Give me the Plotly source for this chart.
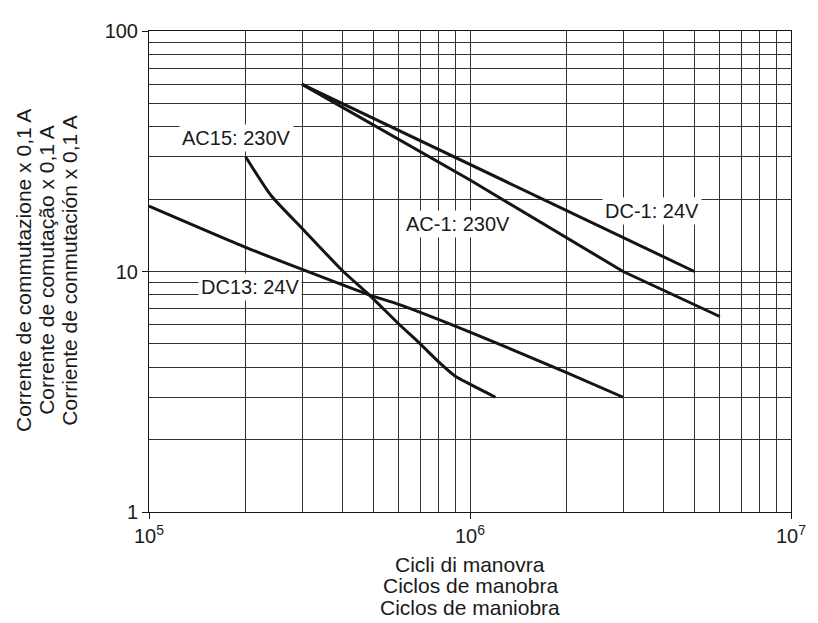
import math
import plotly.graph_objects as go

# ---- data ----
dc1_x = [3e5, 5e6]
dc1_y = [60, 10]

ac1_x = [3e5, 1e6, 3e6, 6e6]
ac1_y = [60, 24, 10, 6.5]

ac15_x = [2e5, 2.4e5, 3e5, 4e5, 4.85e5, 6e5, 7e5, 8e5, 9e5, 1e6, 1.2e6]
ac15_y = [30, 20.7, 15.1, 10.1, 8.0, 6.05, 5.0, 4.2, 3.67, 3.4, 3.0]

dc13_x = [1e5, 2e5, 3e5, 4.85e5, 6e5, 1e6, 2e6, 3e6]
dc13_y = [18.7, 12.6, 10.2, 8.0, 7.3, 5.6, 3.8, 3.0]

series_names = ["DC-1: 24V", "AC-1: 230V", "AC15: 230V", "DC13: 24V"]
label_x = [3.69e6, 9.2e5, 1.87e5, 2.07e5]
label_y = [17.9, 15.8, 35.8, 8.65]

x_major = [1e5, 1e6, 1e7]
x_major_text = ["10<sup>5</sup>", "10<sup>6</sup>", "10<sup>7</sup>"]
y_major = [1, 10, 100]
y_major_text = ["1", "10", "100"]
x_minor = [m * 10 ** e for e in (5, 6) for m in range(2, 10)]
y_minor = [m * 10 ** e for e in (0, 1) for m in range(2, 10)]

x_title_lines = ["Cicli di manovra", "Ciclos de manobra", "Ciclos de maniobra"]
y_title_lines = ["Corrente de commutazione x 0,1 A",
                 "Corrente de comutação x 0,1 A",
                 "Corriente de conmutación x 0,1 A"]

FONT = "Liberation Sans, Arial, Helvetica, sans-serif"
LINE = "#141414"
GRID = "#333333"

# page has an 8px body margin: size figure so that it fits the 818x623 window
OFF = 8
W, H = 818 - OFF, 623 - OFF
L, R, T, B = 141, 22, 15, 111
pw, ph = W - L - R, H - T - B


def px_to_paper(px, py):
    """page pixel -> plot paper fraction"""
    fx = px - OFF
    fy = py - OFF
    return (fx - L) / pw, (H - fy - B) / ph


fig = go.Figure()
for xs, ys, nm, shp in [(dc1_x, dc1_y, series_names[0], "linear"),
                        (ac1_x, ac1_y, series_names[1], "linear"),
                        (ac15_x, ac15_y, series_names[2], "spline"),
                        (dc13_x, dc13_y, series_names[3], "spline")]:
    fig.add_trace(go.Scatter(x=xs, y=ys, mode="lines", name=nm,
                             line=dict(color=LINE, width=3, shape=shp, smoothing=0.6),
                             showlegend=False))

# curve labels (log-axis annotation coordinates are log10 values)
for txt, lx, ly in zip(series_names, label_x, label_y):
    fig.add_annotation(x=math.log10(lx), y=math.log10(ly), xref="x", yref="y", text=txt,
                       showarrow=False, font=dict(family=FONT, size=20, color="#1a1a1a"),
                       bgcolor="white", borderpad=2, xanchor="center", yanchor="middle")

# axis titles as separate lines
for i, t in enumerate(x_title_lines):
    ax, ay = px_to_paper(472.5, 565 + 22 * i)
    fig.add_annotation(x=ax, y=ay, xref="paper", yref="paper",
                       text=t, showarrow=False, xanchor="center", yanchor="middle",
                       font=dict(family=FONT, size=21, color="#1a1a1a"))
for i, t in enumerate(y_title_lines):
    ax, ay = px_to_paper(22 + 23 * i, 266)
    fig.add_annotation(x=ax, y=ay, xref="paper", yref="paper",
                       text=t, showarrow=False, xanchor="center", yanchor="middle",
                       textangle=-90, font=dict(family=FONT, size=21, color="#1a1a1a"))

fig.update_xaxes(type="log", range=[5, 7], tickmode="array", tickvals=x_major,
                 ticktext=x_major_text, ticks="outside", ticklen=6, tickcolor=LINE,
                 showgrid=True, gridcolor=GRID, gridwidth=1,
                 showline=True, linecolor=LINE, linewidth=1, mirror=True,
                 minor=dict(tickmode="array", tickvals=x_minor, showgrid=True,
                            gridcolor=GRID, gridwidth=1, ticks=""),
                 tickfont=dict(family=FONT, size=20, color="#1a1a1a"), zeroline=False)
fig.update_yaxes(type="log", range=[0, 2], tickmode="array", tickvals=y_major,
                 ticktext=y_major_text, ticks="outside", ticklen=6, tickcolor=LINE,
                 showgrid=True, gridcolor=GRID, gridwidth=1,
                 showline=True, linecolor=LINE, linewidth=1, mirror=True,
                 minor=dict(tickmode="array", tickvals=y_minor, showgrid=True,
                            gridcolor=GRID, gridwidth=1, ticks=""),
                 tickfont=dict(family=FONT, size=20, color="#1a1a1a"), zeroline=False)

fig.update_layout(width=W, height=H, margin=dict(l=L, r=R, t=T, b=B),
                  paper_bgcolor="white", plot_bgcolor="white",
                  font=dict(family=FONT, color="#1a1a1a"))

fig.write_html("out.html")
